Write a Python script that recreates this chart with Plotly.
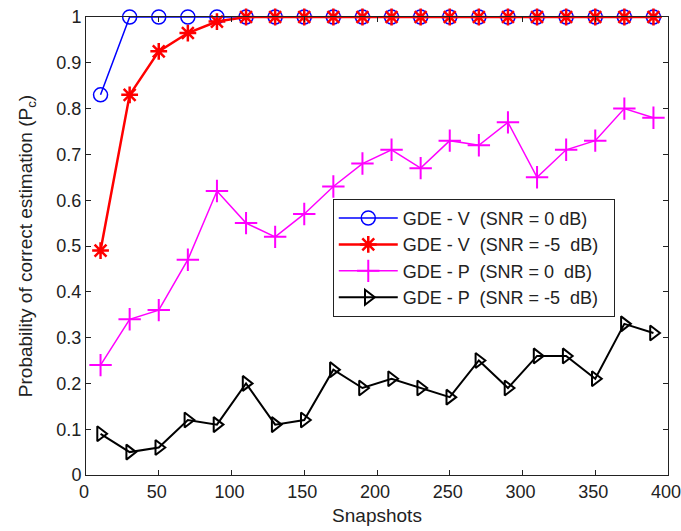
import plotly.graph_objects as go

# Number of snapshots
snapshots = [10, 30, 50, 70, 90, 110, 130, 150, 170, 190,
             210, 230, 250, 270, 290, 310, 330, 350, 370, 390]

# Probability of correct estimation for each method / SNR
gde_v_0db = [0.83, 1, 1, 1, 1, 1, 1, 1, 1, 1,
             1, 1, 1, 1, 1, 1, 1, 1, 1, 1]
gde_v_m5db = [0.49, 0.83, 0.925, 0.965, 0.99, 1, 1, 1, 1, 1,
              1, 1, 1, 1, 1, 1, 1, 1, 1, 1]
gde_p_0db = [0.24, 0.34, 0.36, 0.47, 0.62, 0.55, 0.52, 0.57, 0.63, 0.68,
             0.71, 0.67, 0.73, 0.72, 0.77, 0.65, 0.71, 0.73, 0.80, 0.78]
gde_p_m5db = [0.09, 0.05, 0.06, 0.12, 0.11, 0.20, 0.11, 0.12, 0.23, 0.19,
              0.21, 0.19, 0.17, 0.25, 0.19, 0.26, 0.26, 0.21, 0.33, 0.31]

NB = "\u00a0"
PAD = NB * 2  # a little breathing room before the legend's right border
names = [
    f"GDE - V {NB}(SNR = 0 dB){PAD}",
    f"GDE - V {NB}(SNR = -5 {NB}dB){PAD}",
    f"GDE - P {NB}(SNR = 0 {NB}dB){PAD}",
    f"GDE - P {NB}(SNR = -5 {NB}dB){PAD}",
]

INK = "#222222"

fig = go.Figure()
fig.add_trace(go.Scatter(
    x=snapshots, y=gde_v_0db, name=names[0], mode="lines+markers",
    cliponaxis=False,
    line=dict(color="#0000FF", width=1.5),
    marker=dict(symbol="circle-open", size=14, color="#0000FF",
                line=dict(color="#0000FF", width=1.5)),
))
fig.add_trace(go.Scatter(
    x=snapshots, y=gde_v_m5db, name=names[1], mode="lines+markers",
    cliponaxis=False,
    line=dict(color="#FF0000", width=2.5),
    marker=dict(symbol="asterisk-open", size=14, color="#FF0000",
                line=dict(color="#FF0000", width=2.5)),
))
fig.add_trace(go.Scatter(
    x=snapshots, y=gde_p_0db, name=names[2], mode="lines+markers",
    cliponaxis=False,
    line=dict(color="#FF00FF", width=1.5),
    marker=dict(symbol="cross-thin-open", size=16, color="#FF00FF",
                line=dict(color="#FF00FF", width=2)),
))
fig.add_trace(go.Scatter(
    x=snapshots, y=gde_p_m5db, name=names[3], mode="lines+markers",
    cliponaxis=False,
    line=dict(color="#000000", width=2),
    marker=dict(symbol="triangle-right-open", size=13, color="#000000",
                line=dict(color="#000000", width=2)),
))

axis_common = dict(
    showline=True, linecolor=INK, linewidth=1, mirror="ticks",
    ticks="inside", ticklen=5, tickcolor=INK, showgrid=False,
    zeroline=False, ticklabeloverflow="allow", automargin=False,
    tickfont=dict(family="Liberation Sans", size=18, color=INK),
)

fig.update_layout(
    width=681, height=531,
    margin=dict(l=86, r=13, t=17, b=56),
    paper_bgcolor="white", plot_bgcolor="white",
    font=dict(family="Liberation Sans", size=18, color=INK),
    xaxis=dict(range=[0, 400], dtick=50, tick0=0, ticklabelshift=-2,
               title=dict(text="Snapshots", standoff=8,
                          font=dict(size=19, color=INK)),
               **axis_common),
    yaxis=dict(range=[0, 1], dtick=0.1, tick0=0, tickformat="~g",
               title=dict(text="Probability of correct estimation (P<sub>c</sub>)",
                          standoff=18, font=dict(size=19, color=INK)),
               **axis_common),
    legend=dict(x=0.424, y=0.603, xanchor="left", yanchor="top",
                bgcolor="white", bordercolor=INK, borderwidth=1,
                font=dict(size=18, color=INK), itemwidth=59,
                tracegroupgap=0),
    showlegend=True,
)

fig.write_html("out.html")
